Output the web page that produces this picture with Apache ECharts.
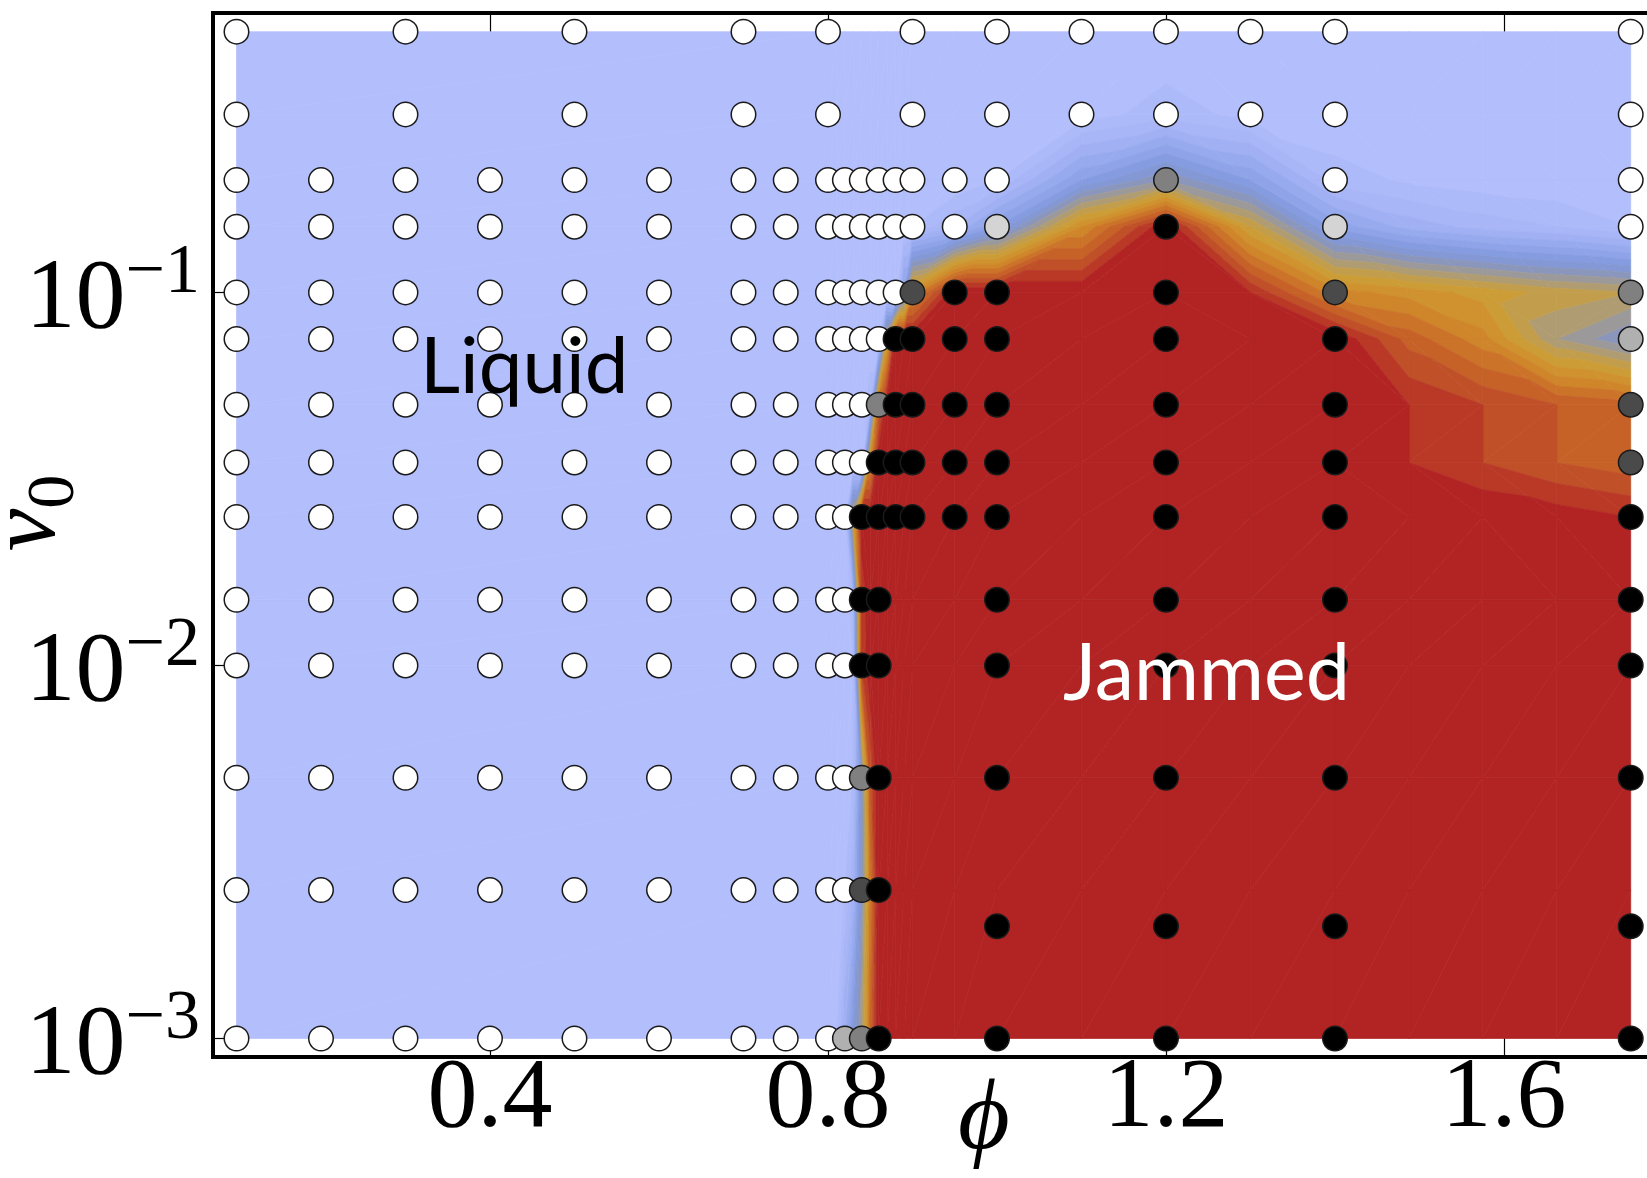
<!DOCTYPE html>
<html><head><meta charset="utf-8">
<script src="https://cdn.jsdelivr.net/npm/echarts@6/dist/echarts.min.js"></script>
<style>html,body{margin:0;padding:0;background:#fff}#c{width:1647px;height:1178px}</style>
</head><body><div id="c"></div>
<script>
// ---------- data ----------
const N = null;
// columns of simulated state points (phi)
const phiCols = [0.1,0.2,0.3,0.4,0.5,0.6,0.7,0.75,0.8,0.82,0.84,0.86,0.88,0.9,0.95,1.0,1.1,1.2,1.3,1.4,1.75];
// rows of simulated state points (v0)
const v0Rows = [0.5,0.3,0.2,0.15,0.1,0.075,0.05,0.035,0.025,0.015,0.01,0.005,0.0025,0.002,0.001];
// jammed fraction of each point (0 = liquid/white, 1 = jammed/black), null = not simulated
const pointState = [
  [0,N,0,N,0,N,0,N,0,N,N,N,N,0,N,0,0,0,0,0,0],            // 0.5
  [0,N,0,N,0,N,0,N,0,N,N,N,N,0,N,0,0,0,0,0,0],            // 0.3
  [0,0,0,0,0,0,0,0,0,0,0,0,0,0,0,0,N,0.5,N,0,0],          // 0.2
  [0,0,0,0,0,0,0,0,0,0,0,0,0,0,0,0.17,N,1,N,0.17,0],      // 0.15
  [0,0,0,0,0,0,0,0,0,0,0,0,0,0.71,1,1,N,1,N,0.71,0.5],    // 0.1
  [0,0,0,0,0,0,0,0,0,0,0,0,1,1,1,1,N,1,N,1,0.31],         // 0.075
  [0,0,0,0,0,0,0,0,0,0,0,0.5,1,1,1,1,N,1,N,1,0.71],       // 0.05
  [0,0,0,0,0,0,0,0,0,0,0,1,1,1,1,1,N,1,N,1,0.71],         // 0.035
  [0,0,0,0,0,0,0,0,0,0,1,1,1,1,1,1,N,1,N,1,1],            // 0.025
  [0,0,0,0,0,0,0,0,0,0,1,1,N,N,N,1,N,1,N,1,1],            // 0.015
  [0,0,0,0,0,0,0,0,0,0,1,1,N,N,N,1,N,1,N,1,1],            // 0.01
  [0,0,0,0,0,0,0,0,0,0,0.5,1,N,N,N,1,N,1,N,1,1],          // 0.005
  [0,0,0,0,0,0,0,0,0,0,0.71,1,N,N,N,N,N,N,N,N,N],         // 0.0025
  [N,N,N,N,N,N,N,N,N,N,N,N,N,N,N,1,N,1,N,1,1],            // 0.002
  [0,0,0,0,0,0,0,0,0,0.31,0.5,1,N,N,N,1,N,1,N,1,1]        // 0.001
];
// background field (filled contour) nodes
const fieldPhi = [0.1,0.8,0.81,0.82,0.83,0.84,0.85,0.86,0.87,0.88,0.89,0.9,0.95,1.0,1.1,1.2,1.3,1.4,1.4875,1.575,1.6625,1.75];
const fieldV0 = [0.001,0.0025,0.005,0.01,0.015,0.025,0.035,0.05,0.075,0.1,0.15,0.2,0.3,0.5];
const fieldValue = [
  [0,0,0.05,0.2,0.35,0.5,0.8,1,1,1,1,1,1,1,1,1,1,1,1,1,1,1],              // 0.001
  [0,0,0,0.05,0.15,0.4,0.75,1,1,1,1,1,1,1,1,1,1,1,1,1,1,1],               // 0.0025
  [0,0,0,0,0.05,0.4,0.85,1,1,1,1,1,1,1,1,1,1,1,1,1,1,1],                  // 0.005
  [0,0,0,0,0.05,0.9,1,1,1,1,1,1,1,1,1,1,1,1,1,1,1,1],                     // 0.01
  [0,0,0,0,0.1,0.9,1,1,1,1,1,1,1,1,1,1,1,1,1,1,1,1],                      // 0.015
  [0,0,0,0,0.6,1,1,1,1,1,1,1,1,1,1,1,1,1,1,1,0.98,0.95],                  // 0.025
  [0,0,0,0,0,0,0.7,1,1,1,1,1,1,1,1,1,1,1,0.95,0.9,0.85,0.82],             // 0.035
  [0,0,0,0,0,0,0.1,0.8,1,1,1,1,1,1,1,1,1,1,0.95,0.9,0.85,0.82],           // 0.05
  [0,0,0,0,0,0,0,0,0.6,1,1,1,1,1,1,1,1,1,0.83,0.72,0.5,0.4],              // 0.075
  [0,0,0,0,0,0,0,0,0,0,0.3,0.7,1,1,1,1,0.95,0.72,0.68,0.63,0.58,0.55],    // 0.1
  [0,0,0,0,0,0,0,0,0,0,0.02,0.05,0.15,0.3,0.7,1,0.6,0.28,0.18,0.13,0.1,0.05], // 0.15
  [0,0,0,0,0,0,0,0,0,0,0,0,0,0.05,0.3,0.45,0.3,0.08,0.04,0.02,0.01,0],    // 0.2
  [0,0,0,0,0,0,0,0,0,0,0,0,0,0,0.02,0.08,0.03,0,0,0,0,0],                 // 0.3
  [0,0,0,0,0,0,0,0,0,0,0,0,0,0,0,0,0,0,0,0,0,0]                           // 0.5
];
const xTicks = [0.4,0.8,1.2,1.6];

// ---------- styling helpers ----------
const X_MIN = 0.0722, X_MAX = 1.7811;
const Y_MIN = Math.pow(10,-3.0496), Y_MAX = Math.pow(10,-0.251);
const NB = 20;
const cmapStops = [
  [0.00,[179,190,252]],[0.12,[166,180,246]],[0.25,[145,165,234]],[0.35,[128,152,220]],
  [0.43,[140,150,185]],[0.50,[165,155,135]],[0.57,[192,158,80]],[0.64,[206,156,50]],
  [0.72,[208,138,42]],[0.80,[202,112,40]],[0.88,[194,86,40]],[0.94,[186,60,38]],[1.00,[178,36,36]]
];
function cmap(t){
  for(let k=1;k<cmapStops.length;k++){
    if(t<=cmapStops[k][0]){
      const a=cmapStops[k-1],b=cmapStops[k];const u=(t-a[0])/(b[0]-a[0]);
      const c=a[1].map((v,i)=>Math.round(v+u*(b[1][i]-v)));
      return 'rgb('+c.join(',')+')';
    }
  }
  return 'rgb(178,36,36)';
}
const bandColors=[];for(let b=0;b<NB;b++)bandColors.push(cmap(b/(NB-1)));
const bandEdges=[];for(let b=0;b<=NB;b++)bandEdges.push(b/NB);

function interp(a,b,l){const t=(l-a.f)/(b.f-a.f);return {x:a.x+t*(b.x-a.x),y:a.y+t*(b.y-a.y),f:l};}
function clip(poly,level,keepAbove){
  const out=[];const n=poly.length;
  for(let k=0;k<n;k++){
    const cur=poly[k],prev=poly[(k+n-1)%n];
    const cin=keepAbove?cur.f>=level:cur.f<=level;
    const pin=keepAbove?prev.f>=level:prev.f<=level;
    if(cin){if(!pin)out.push(interp(prev,cur,level));out.push(cur);}
    else if(pin)out.push(interp(prev,cur,level));
  }
  return out;
}

const cells=[];
for(let j=0;j<fieldV0.length-1;j++)for(let i=0;i<fieldPhi.length-1;i++)
  cells.push([(fieldPhi[i]+fieldPhi[i+1])/2,Math.sqrt(fieldV0[j]*fieldV0[j+1]),i,j]);

function renderCell(params,api){
  const i=api.value(2),j=api.value(3);
  const corners=[[i,j],[i+1,j],[i+1,j+1],[i,j+1]].map(([a,b])=>{
    const p=api.coord([fieldPhi[a],fieldV0[b]]);
    return {x:p[0],y:p[1],f:fieldValue[b][a]};
  });
  const tris=Math.abs(corners[0].f-corners[2].f)<=Math.abs(corners[1].f-corners[3].f)?[[0,1,2],[0,2,3]]:[[0,1,3],[1,2,3]];
  const children=[];
  tris.forEach(t=>{
    const poly=t.map(k=>corners[k]);
    for(let b=0;b<NB;b++){
      let p=poly;
      if(b>0)p=clip(p,bandEdges[b],true);
      if(p.length<3)continue;
      if(b<NB-1)p=clip(p,bandEdges[b+1],false);
      if(p.length<3)continue;
      children.push({type:'polygon',silent:true,shape:{points:p.map(q=>[q.x,q.y])},
        style:{fill:bandColors[b],stroke:bandColors[b],lineWidth:0.7}});
    }
  });
  return {type:'group',children};
}

const points=[];
phiCols.forEach((phi,c)=>{
  v0Rows.forEach((v0,r)=>{
    const s=pointState[r][c];
    if(s===null)return;
    const g=Math.round(255*(1-s));
    points.push({value:[phi,v0],itemStyle:{color:'rgb('+g+','+g+','+g+')'}});
  });
});

const serif='"Liberation Serif","DejaVu Serif",serif';
const tickStyle={color:'#000',width:1.2};
const chart=echarts.init(document.getElementById('c'),null,{renderer:'canvas'});
chart.setOption({
  animation:false,
  backgroundColor:'#fff',
  grid:{left:213,top:13,right:-10,bottom:121,containLabel:false,outerBoundsMode:'none',
        show:true,borderColor:'#000',borderWidth:4,backgroundColor:'transparent'},
  xAxis:[{
    type:'value',position:'bottom',min:X_MIN,max:X_MAX,
    axisLine:{show:false},splitLine:{show:false},
    axisTick:{show:true,inside:true,length:20,customValues:xTicks,lineStyle:tickStyle},
    axisLabel:{customValues:xTicks,formatter:v=>v.toFixed(1),fontFamily:serif,fontSize:100,lineHeight:60,margin:13,color:'#000'},
    name:'ϕ',nameLocation:'middle',nameGap:15,nameMoveOverlap:false,
    nameTextStyle:{fontFamily:serif,fontStyle:'italic',fontSize:100,lineHeight:100,color:'#000',padding:[0,0,0,98]}
  },{
    type:'value',position:'top',min:X_MIN,max:X_MAX,
    axisLine:{show:false},splitLine:{show:false},axisLabel:{show:false},
    axisTick:{show:true,inside:true,length:20,customValues:xTicks,lineStyle:tickStyle}
  }],
  yAxis:{
    type:'log',logBase:10,min:Y_MIN,max:Y_MAX,
    axisLine:{show:false},splitLine:{show:false},minorTick:{show:false},
    axisTick:{show:true,inside:true,length:20,lineStyle:tickStyle},
    axisLabel:{showMinLabel:false,showMaxLabel:false,margin:13,padding:[17,0,0,0],
      formatter:v=>'{b|10}{s|−'+(-Math.round(Math.log10(v)))+'}',
      rich:{b:{fontFamily:serif,fontSize:100,lineHeight:124,color:'#000'},
            s:{fontFamily:serif,fontSize:70,lineHeight:70,verticalAlign:'top',color:'#000'}}},
    name:'{v|v}{s|0}',nameLocation:'middle',nameGap:124,nameMoveOverlap:false,
    nameTextStyle:{padding:[0,0,0,44],rich:{
      v:{fontFamily:serif,fontStyle:'italic',fontSize:96,lineHeight:120,color:'#000'},
      s:{fontFamily:serif,fontSize:68,lineHeight:70,verticalAlign:'bottom',color:'#000'}}}
  },
  series:[{
    type:'custom',coordinateSystem:'cartesian2d',data:cells,encode:{x:0,y:1},
    renderItem:renderCell,z:1,silent:true
  },{
    type:'scatter',data:points,symbol:'circle',symbolSize:24.5,z:3,silent:true,
    itemStyle:{borderColor:'#1a1a1a',borderWidth:1.5,opacity:1}
  }],
  graphic:[
    {type:'text',z:10,silent:true,style:{text:'Liquid',x:420,y:368,fontFamily:'Lato',fontSize:78,fill:'#000',align:'left',verticalAlign:'middle'}},
    {type:'text',z:10,silent:true,style:{text:'Jammed',x:1063,y:675,fontFamily:'Lato',fontSize:79,fill:'#fff',align:'left',verticalAlign:'middle'}}
  ]
});
</script></body></html>
